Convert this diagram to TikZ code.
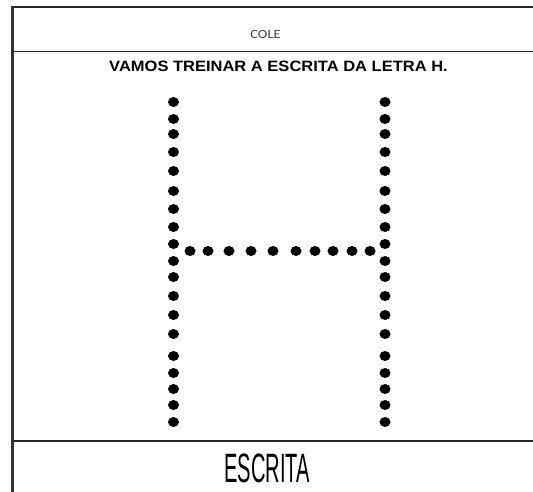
\documentclass[tikz,border=0pt]{standalone}
\usepackage{fontspec}
\setmainfont{Liberation Sans}
\newfontfamily\calib{Carlito}
\begin{document}
\begin{tikzpicture}[x=1pt,y=-1pt,
  dot/.style={fill=black},
  rule/.style={draw=black!85}]
\useasboundingbox (0,0) rectangle (533,492);
\fill[white] (0,0) rectangle (533,492);
% frame
\draw[rule,line width=1.6pt] (12,7) -- (533,7);
\draw[rule,line width=1pt] (12,52) -- (533,52);
\draw[rule,line width=1.5pt] (12,441) -- (533,441);
\draw[black!80,line width=3pt] (12,6) -- (12,492);
% texts
\node[inner sep=0pt,text=black!75] (cole) at (265.5,34) {\scalebox{1.15}[1]{\calib\fontsize{12.5}{13}\selectfont COLE}};
\node[inner sep=0pt] (title) at (278.5,66) {\scalebox{1.1}[1]{\bfseries\fontsize{15}{16}\selectfont VAMOS TREINAR A ESCRITA DA LETRA H.}};
\node[inner sep=0pt] (escrita) at (267,468) {\scalebox{0.49}[1]{\fontsize{41}{42}\selectfont ESCRITA}};
% dots
\foreach \y in {102,119,134,152,171,191,209,227,244,261,277,296,315,334,356,373,389,405,422} {
  \fill[dot] (173.5,\y) ellipse (5.5 and 5);
  \fill[dot] (385,\y) ellipse (5.5 and 5);
}
\foreach \x in {190,208,229,251,273,296,315,333,352,370} {
  \fill[dot] (\x,251) ellipse (5.5 and 5);
}
\end{tikzpicture}
\end{document}
